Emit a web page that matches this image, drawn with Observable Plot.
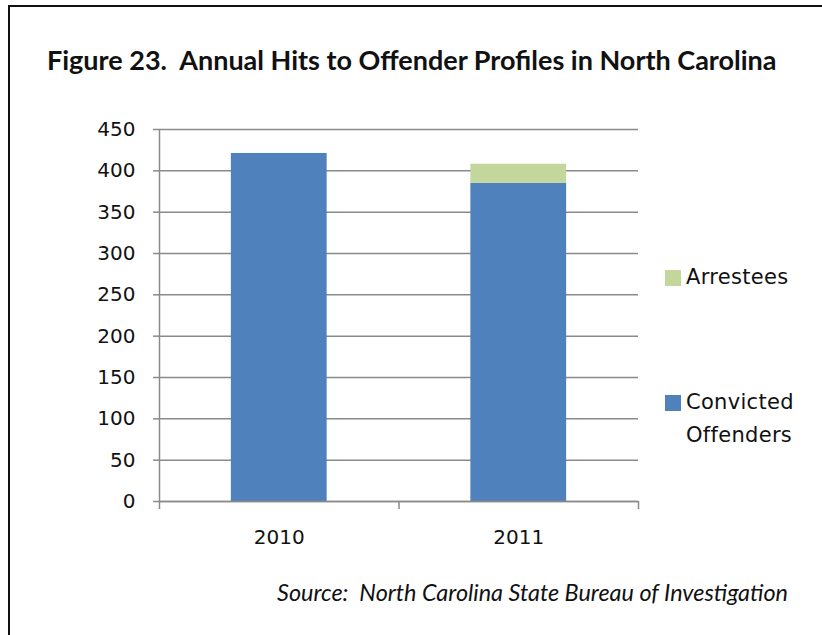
<!DOCTYPE html>
<html><head><meta charset="utf-8">
<script src="https://cdn.jsdelivr.net/npm/d3@7"></script>
<script src="https://cdn.jsdelivr.net/npm/@observablehq/plot@0.6"></script>
<style>
body{margin:0;background:#fff;}
#wrap{position:relative;width:822px;height:635px;overflow:hidden;background:#fff;}
#frame{position:absolute;left:8px;top:5px;width:840px;height:660px;border-left:2px solid #111;border-top:2px solid #111;}
#title{position:absolute;left:47px;top:43px;font-family:Lato,sans-serif;font-weight:bold;font-size:27px;color:#111;white-space:nowrap;}
#chart{position:absolute;left:0;top:0;}
.leg{position:absolute;font-family:"DejaVu Sans",sans-serif;font-size:21px;color:#111;line-height:33px;letter-spacing:0.3px;}
.sw{position:absolute;width:16px;height:16px;}
#source{position:absolute;right:34px;top:578px;font-family:Lato,sans-serif;font-style:italic;font-size:23.4px;color:#111;white-space:nowrap;}
</style></head>
<body>
<div id="wrap">
  <div id="chart"></div>
  <div id="frame"></div>
  <div id="title">Figure 23.&nbsp; Annual Hits to Offender Profiles in North Carolina</div>
  <div id="legend"></div>
  <div id="source">Source:&nbsp; North Carolina State Bureau of Investigation</div>
</div>
<script>
const years = ["2010", "2011"];
const convicted = [421, 385];
const arrestees = [0, 23];
const yTicks = [0, 50, 100, 150, 200, 250, 300, 350, 400, 450];
const seriesNames = ["Convicted Offenders", "Arrestees"];
const seriesColors = ["#4F81BD", "#C3D69B"];

const rows = years.flatMap((yr, i) => [
  {year: yr, i, series: seriesNames[0], y1: 0, y2: convicted[i]},
  {year: yr, i, series: seriesNames[1], y1: convicted[i], y2: convicted[i] + arrestees[i]}
]).filter(d => d.y2 > d.y1);

const chart = Plot.plot({
  width: 822, height: 635,
  marginLeft: 159, marginRight: 184, marginTop: 129, marginBottom: 134,
  x: {domain: [0, years.length]},
  y: {domain: [0, 450]},
  color: {domain: seriesNames, range: seriesColors},
  style: {fontFamily: "DejaVu Sans", fontSize: "20px", color: "#111", background: "transparent"},
  marks: [
    Plot.ruleY(yTicks, {stroke: "#8a8a8a", strokeWidth: 1.5}),
    Plot.rect(rows, {x1: d => d.i + 0.3, x2: d => d.i + 0.7, y1: "y1", y2: "y2", fill: "series"}),
    Plot.ruleY([0], {stroke: "#8a8a8a", strokeWidth: 1.5}),
    Plot.ruleX([0], {stroke: "#8a8a8a", strokeWidth: 1.5}),
    Plot.axisY({ticks: yTicks, tickSize: 6, tickPadding: 18, stroke: "#8a8a8a", strokeWidth: 1.5, label: null}),
    Plot.axisX({ticks: d3.range(years.length + 1), tickFormat: () => "", tickSize: 8, stroke: "#8a8a8a", strokeWidth: 1.5, label: null}),
    Plot.axisX({ticks: years.map((_, i) => i + 0.5), tickFormat: d => years[Math.floor(d)], tickSize: 0, tickPadding: 28, label: null})
  ]
});
document.getElementById("chart").appendChild(chart);

// legend (top entry = last series, as in the reference)
const legend = document.getElementById("legend");
const legendItems = [
  {name: seriesNames[1], color: seriesColors[1], top: 261},
  {name: seriesNames[0], color: seriesColors[0], top: 386}
];
for (const it of legendItems) {
  const sw = document.createElement("div");
  sw.className = "sw";
  sw.style.left = "665px"; sw.style.top = (it.top + 9) + "px"; sw.style.background = it.color;
  legend.appendChild(sw);
  const t = document.createElement("div");
  t.className = "leg";
  t.style.left = "686px"; t.style.top = it.top + "px";
  t.innerHTML = it.name.split(" ").join("<br>");
  legend.appendChild(t);
}
</script>
</body></html>
